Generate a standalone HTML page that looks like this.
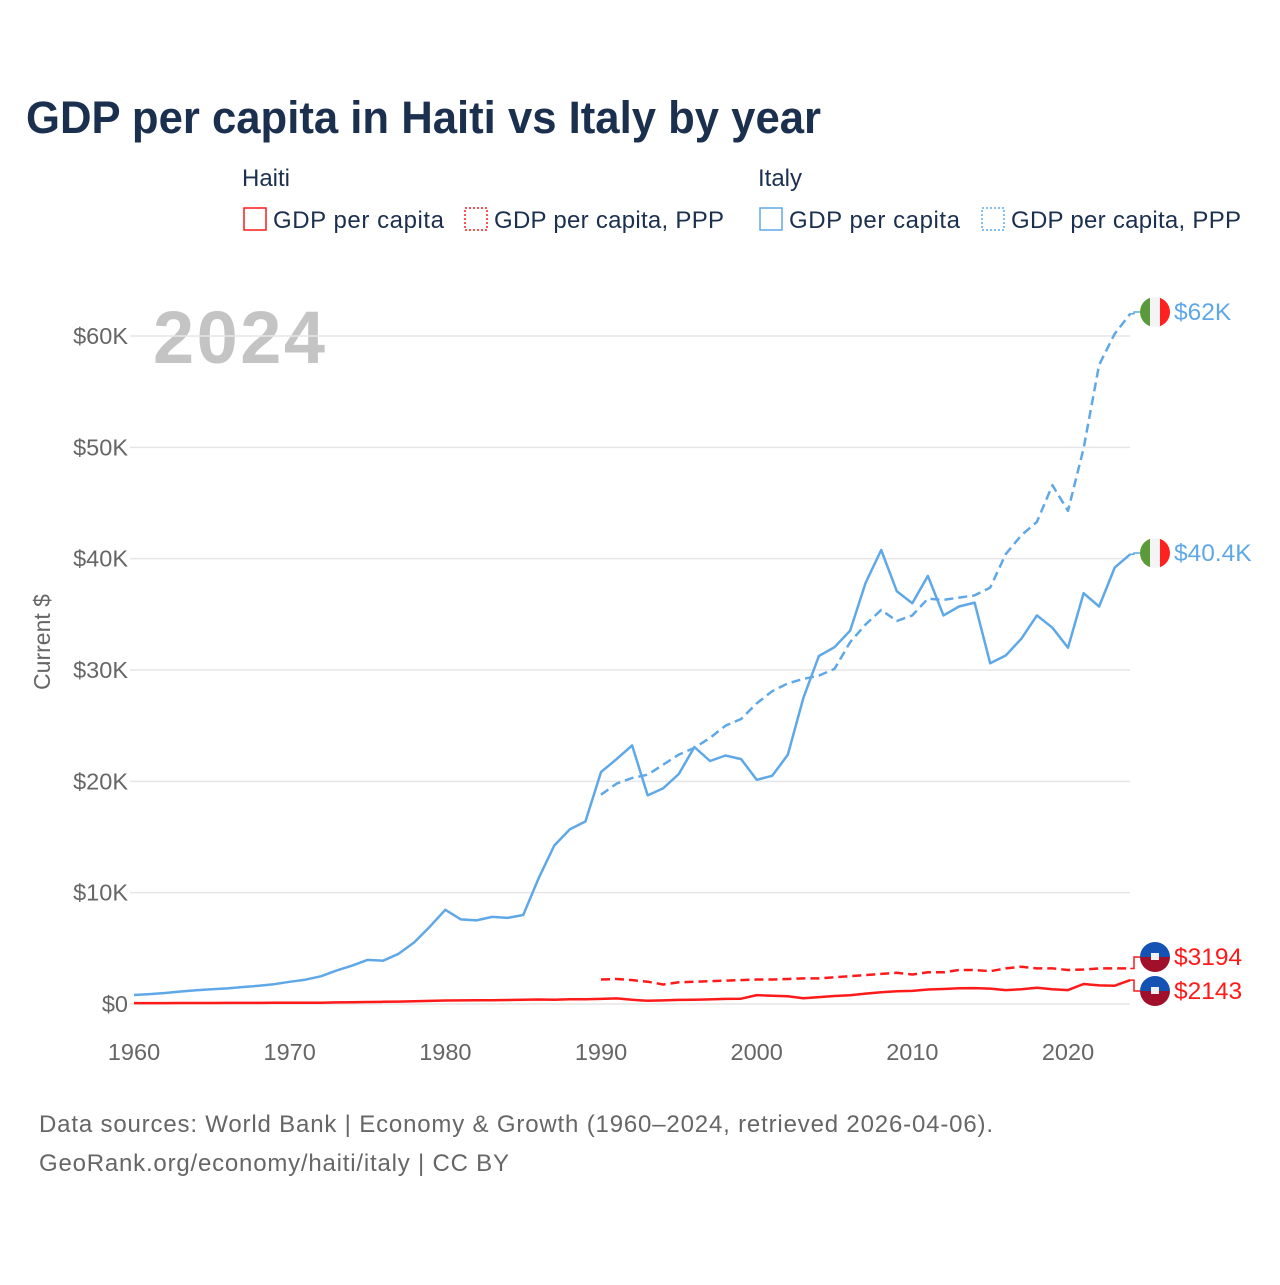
<!DOCTYPE html>
<html><head><meta charset="utf-8"><style>
body{margin:0;background:#fff;}
svg text{font-family:"Liberation Sans",sans-serif;}
</style></head><body>
<svg id="chart" width="1280" height="1280" viewBox="0 0 1280 1280">
<text x="26" y="133" font-size="45" font-weight="bold" fill="#1b2f4e" textLength="795" lengthAdjust="spacingAndGlyphs">GDP per capita in Haiti vs Italy by year</text>
<g font-size="24" fill="#1b2f4e">
<text x="242" y="186">Haiti</text>
<text x="758" y="186">Italy</text>
<g><rect x="244" y="208" width="22" height="22" fill="none" stroke="#ff1a1a" stroke-width="1.5"/><text x="273" y="228" textLength="171">GDP per capita</text></g>
<g><rect x="465" y="208" width="22" height="22" fill="none" stroke="#ff1a1a" stroke-width="1.5" stroke-dasharray="2 2"/><text x="494" y="228" textLength="230">GDP per capita, PPP</text></g>
<g><rect x="760" y="208" width="22" height="22" fill="none" stroke="#5fa8e8" stroke-width="1.5"/><text x="789" y="228" textLength="171">GDP per capita</text></g>
<g><rect x="982" y="208" width="22" height="22" fill="none" stroke="#5fa8e8" stroke-width="1.5" stroke-dasharray="2 2"/><text x="1011" y="228" textLength="230">GDP per capita, PPP</text></g>
</g>
<text x="153" y="363" font-size="74" font-weight="bold" fill="#c4c4c4" textLength="172">2024</text>
<text transform="translate(50,642) rotate(-90)" text-anchor="middle" font-size="23" fill="#666">Current $</text>
<defs>
<clipPath id="c1"><circle cx="1155" cy="312" r="15"/></clipPath>
<clipPath id="c2"><circle cx="1155" cy="553" r="15"/></clipPath>
</defs>
<g id="grid"></g><g id="series"></g><g id="labels"></g>
<text x="39" y="1132" font-size="24" fill="#666" textLength="954">Data sources: World Bank | Economy &amp; Growth (1960–2024, retrieved 2026-04-06).</text>
<text x="39" y="1171" font-size="24" fill="#666" textLength="470">GeoRank.org/economy/haiti/italy | CC BY</text>
</svg>
<script>
const yTicks=[0,10000,20000,30000,40000,50000,60000];
const yTickLabels=["$0","$10K","$20K","$30K","$40K","$50K","$60K"];
const xTicks=[1960,1970,1980,1990,2000,2010,2020];
const italyYears=[1960,1961,1962,1963,1964,1965,1966,1967,1968,1969,1970,1971,1972,1973,1974,1975,1976,1977,1978,1979,1980,1981,1982,1983,1984,1985,1986,1987,1988,1989,1990,1991,1992,1993,1994,1995,1996,1997,1998,1999,2000,2001,2002,2003,2004,2005,2006,2007,2008,2009,2010,2011,2012,2013,2014,2015,2016,2017,2018,2019,2020,2021,2022,2023,2024];
const italyGdp=[804,887,990,1126,1228,1317,1404,1524,1638,1780,1992,2185,2487,3000,3440,3960,3890,4510,5530,6940,8460,7600,7510,7820,7730,7990,11310,14240,15700,16390,20830,22000,23230,18740,19380,20660,23080,21830,22320,22000,20140,20500,22380,27500,31260,32050,33530,37820,40780,37080,36000,38450,34900,35700,36050,30600,31300,32800,34900,33800,32000,36900,35700,39200,40400];
const pppYears=[1990,1991,1992,1993,1994,1995,1996,1997,1998,1999,2000,2001,2002,2003,2004,2005,2006,2007,2008,2009,2010,2011,2012,2013,2014,2015,2016,2017,2018,2019,2020,2021,2022,2023,2024];
const italyPpp=[18800,19800,20300,20600,21500,22400,23000,23900,25000,25600,27000,28100,28800,29200,29500,30100,32500,34100,35400,34400,34900,36400,36300,36500,36700,37400,40400,42100,43300,46600,44300,49900,57400,60200,62000];
const haitiGdp=[80,82,85,88,90,92,95,98,100,105,110,115,120,140,160,180,200,220,250,280,310,320,330,340,360,380,400,390,420,430,460,500,380,300,320,370,380,410,460,480,800,740,700,520,620,720,780,930,1050,1150,1180,1300,1350,1420,1430,1380,1250,1330,1460,1330,1250,1800,1670,1640,2143];
const haitiPpp=[2200,2250,2150,2000,1750,1950,2000,2050,2100,2150,2200,2200,2250,2300,2300,2400,2500,2600,2700,2800,2650,2850,2850,3050,3050,2950,3200,3350,3200,3200,3050,3100,3200,3200,3194];
const X=y=>134+(y-1960)*(1068-134)/60;
const Y=v=>1004-v*(1004-336)/60000;
const NS="http://www.w3.org/2000/svg";
function mk(tag,attrs,parent){const e=document.createElementNS(NS,tag);for(const k in attrs)e.setAttribute(k,attrs[k]);parent.appendChild(e);return e;}
const grid=document.getElementById('grid');
yTicks.forEach((t,i)=>{
 const l=mk('line',{x1:130,x2:1130,y1:Y(t),y2:Y(t),stroke:'#e6e6e6','stroke-width':1.5},grid);
 
 
 const tx=mk('text',{x:128,y:Y(t)+8,'text-anchor':'end','font-size':23.5,fill:'#666'},grid);
 tx.textContent=yTickLabels[i];
 
 
});
xTicks.forEach(t=>{
 const tx=mk('text',{x:X(t),y:1060,'text-anchor':'middle','font-size':23.5,fill:'#666'},grid);
 tx.textContent=t;
 
 
});
const ser=document.getElementById('series');
function line(years,vals,color,dash,name){
 const d=years.map((y,i)=>(i?'L':'M')+X(y).toFixed(1)+','+Y(vals[i]).toFixed(1)).join('');
 const p=mk('path',{d:d,fill:'none',stroke:color,'stroke-width':2.5,'stroke-linejoin':'round'},ser);
 if(dash)p.setAttribute('stroke-dasharray','9 5');
 
 
}
line(italyYears,haitiGdp,'#ff1a1a',false,'line-haiti-gdp');
line(pppYears,haitiPpp,'#ff1a1a',true,'line-haiti-ppp');
line(italyYears,italyGdp,'#5fa8e8',false,'line-italy-gdp');
line(pppYears,italyPpp,'#5fa8e8',true,'line-italy-ppp');
const lab=document.getElementById('labels');
function endLabel(val,ly,text,color,flag,clip,name){
 const x0=X(2024),y0=Y(val);
 mk('path',{d:`M${x0},${y0}H1134V${ly}H1140`,fill:'none',stroke:color,'stroke-width':1.5},lab);
 const g=mk('g',{},lab);
 
 
 const cx=1155;
 if(flag==='it'){
  const f=mk('g',{'clip-path':`url(#${clip})`},g);
  mk('rect',{x:cx-15,y:ly-15,width:10,height:30,fill:'#5a9a3a'},f);
  mk('rect',{x:cx-5,y:ly-15,width:10,height:30,fill:'#f4f4f4'},f);
  mk('rect',{x:cx+5,y:ly-15,width:10,height:30,fill:'#ff2020'},f);
 }else{
  mk('path',{d:`M${cx-15},${ly}A15,15 0 0 1 ${cx+15},${ly}Z`,fill:'#1452b4'},g);
  mk('path',{d:`M${cx-15},${ly}A15,15 0 0 0 ${cx+15},${ly}Z`,fill:'#a0102a'},g);
  mk('rect',{x:cx-4,y:ly-4,width:8,height:7,fill:'#f0f0f0'},g);
 }
 const t=mk('text',{x:1174,y:ly+8,'font-size':24.5,fill:color},g);
 t.textContent=text;
}
endLabel(62000,312,'$62K','#5fa8e8','it','c1','end-label-italy-ppp');
endLabel(40400,553,'$40.4K','#5fa8e8','it','c2','end-label-italy-gdp');
endLabel(3194,957,'$3194','#ff1a1a','ht','','end-label-haiti-ppp');
endLabel(2143,991,'$2143','#ff1a1a','ht','','end-label-haiti-gdp');
</script>
</body></html>
